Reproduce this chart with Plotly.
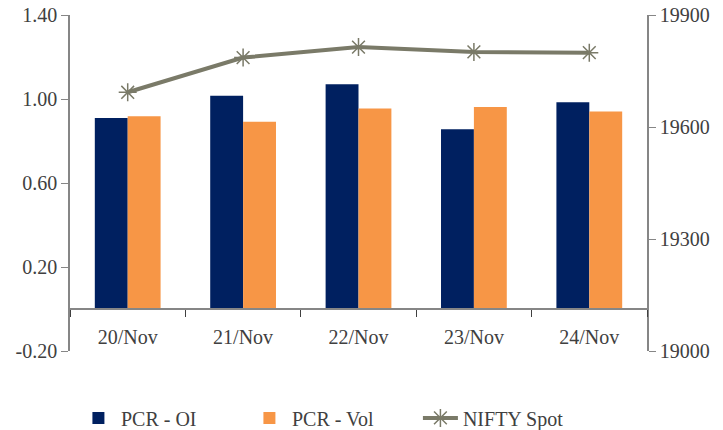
import plotly.graph_objects as go

# Daily put-call ratios and NIFTY spot close
dates = ["20/Nov", "21/Nov", "22/Nov", "23/Nov", "24/Nov"]
pcr_oi = [0.91, 1.016, 1.07, 0.856, 0.984]
pcr_vol = [0.918, 0.892, 0.955, 0.962, 0.94]
nifty_spot = [19693, 19786, 19814, 19801, 19799]

left_ticks = [-0.2, 0.2, 0.6, 1.0, 1.4]
right_ticks = [19000, 19300, 19600, 19900]

FONT = "Liberation Serif, Times New Roman, serif"
TEXT = "#404040"
AXIS = "#868686"
FS = 20

fig = go.Figure()
fig.add_trace(go.Bar(x=dates, y=pcr_oi, name="PCR - OI",
                     marker=dict(color="#002060", line=dict(width=0))))
fig.add_trace(go.Bar(x=dates, y=pcr_vol, name="PCR - Vol",
                     marker=dict(color="#F79646", line=dict(width=0))))
fig.add_trace(go.Scatter(x=dates, y=nifty_spot, name="NIFTY Spot", yaxis="y2",
                         mode="lines+markers",
                         line=dict(color="#7A7A68", width=4),
                         marker=dict(symbol="asterisk-open", size=15,
                                     line=dict(color="#7A7A68", width=1.5))))

fig.update_layout(
    width=723, height=430,
    margin=dict(l=70, r=76, t=15, b=79, autoexpand=False),
    paper_bgcolor="white", plot_bgcolor="white",
    font=dict(family=FONT, size=FS, color=TEXT),
    barmode="group", bargap=0.43, bargroupgap=0,
    showlegend=True,
    legend=dict(orientation="h", xref="container", x=0.105, xanchor="left",
                yref="container", y=0.028, yanchor="middle",
                font=dict(family=FONT, size=FS, color=TEXT),
                itemwidth=35, entrywidth=121, traceorder="normal"),
    xaxis=dict(anchor="free", position=0.2 / 1.6,
               showline=True, linecolor=AXIS, linewidth=1.5,
               ticks="outside", tickson="boundaries", ticklen=7,
               tickcolor="#404040", tickwidth=1, ticklabelstandoff=10,
               showgrid=False, tickfont=dict(size=FS, color=TEXT)),
    yaxis=dict(range=[-0.2, 1.4], tickvals=left_ticks,
               ticktext=[f"{v:.2f}" for v in left_ticks],
               showline=True, linecolor=AXIS, linewidth=1.5,
               ticks="outside", ticklen=7, tickcolor=AXIS,
               showgrid=False, zeroline=False, tickfont=dict(size=FS, color=TEXT)),
    yaxis2=dict(range=[19000, 19900], tickvals=right_ticks,
                ticktext=[str(v) for v in right_ticks],
                overlaying="y", side="right",
                showline=True, linecolor=AXIS, linewidth=1.5,
                ticks="outside", ticklen=7, tickcolor=AXIS,
                showgrid=False, zeroline=False, tickfont=dict(size=FS, color=TEXT)),
)

fig.write_html("out.html")
